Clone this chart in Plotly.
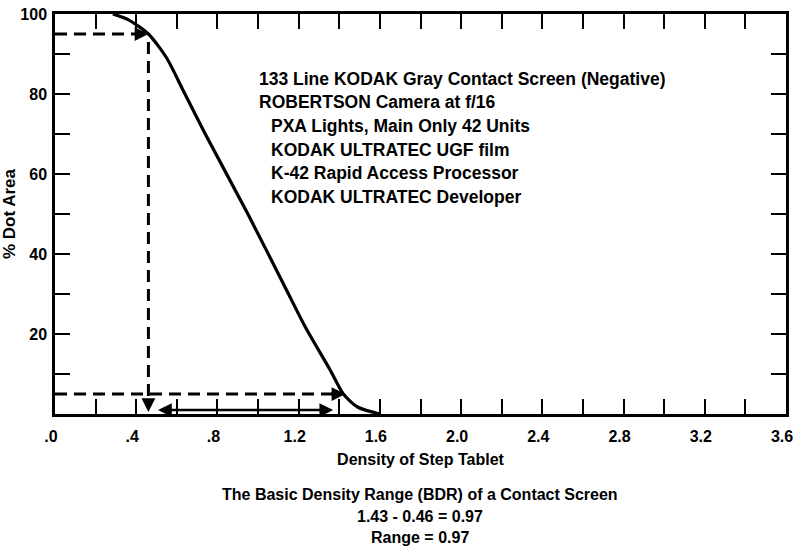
import plotly.graph_objects as go

# ---- data ----
density = [0.285, 0.36, 0.46, 0.55, 0.63, 0.74, 0.95, 1.14, 1.23, 1.355, 1.42, 1.49, 1.60]
dot_area = [100, 98.6, 95, 89, 81, 70, 50, 31, 22, 11, 5, 1.75, 0]

bdr_low = 0.46
bdr_high = 1.43
dot_high = 95
dot_low = 5

x_tickvals = [round(0.2 * i, 1) for i in range(19)]
x_ticktext = [".0", "", ".4", "", ".8", "", "1.2", "", "1.6", "", "2.0", "", "2.4", "", "2.8", "", "3.2", "", "3.6"]
y_tickvals = list(range(0, 101, 10))
y_ticktext = ["", "", "20", "", "40", "", "60", "", "80", "", "100"]

info_lines = [
    "133 Line KODAK Gray Contact Screen (Negative)",
    "ROBERTSON Camera at f/16",
    "   PXA Lights, Main Only 42 Units",
    "   KODAK ULTRATEC UGF film",
    "   K-42 Rapid Access Processor",
    "   KODAK ULTRATEC Developer",
]
caption_lines = [
    "The Basic Density Range (BDR) of a Contact Screen",
    "1.43 - 0.46 = 0.97",
    "Range = 0.97",
]

FONT = "Liberation Sans"
L, R, T, B = 55, 786, 14, 414  # plot area in pixels


def px(xp):
    return (xp - L) / (R - L)


def py(yp):
    return (B - yp) / (B - T)


fig = go.Figure()
fig.add_trace(go.Scatter(x=density, y=dot_area, mode="lines",
                         line=dict(color="black", width=3.2, shape="spline", smoothing=0.7),
                         showlegend=False, hoverinfo="skip"))

dash = "12px,7px"
fig.add_shape(type="line", x0=0, x1=bdr_low - 0.04, y0=dot_high, y1=dot_high,
              line=dict(color="black", width=3, dash=dash))
fig.add_shape(type="line", x0=bdr_low, x1=bdr_low, y0=dot_high - 2, y1=3,
              line=dict(color="black", width=3, dash=dash))
fig.add_shape(type="line", x0=0, x1=bdr_high - 0.06, y0=dot_low, y1=dot_low,
              line=dict(color="black", width=3, dash=dash))


def head(x, y, ax, ay):
    fig.add_annotation(x=x, y=y, ax=ax, ay=ay, xref="x", yref="y", axref="x", ayref="y",
                       text="", showarrow=True, arrowhead=2, arrowsize=1.1, arrowwidth=2.5,
                       arrowcolor="black")


head(bdr_low, dot_high, bdr_low - 0.06, dot_high)
head(bdr_low, 0.5, bdr_low, 4)
head(bdr_high, dot_low, bdr_high - 0.08, dot_low)

fig.add_annotation(x=1.37, y=1.0, ax=0.50, ay=1.0, xref="x", yref="y", axref="x", ayref="y",
                   text="", showarrow=True, arrowhead=2, startarrowhead=2, arrowside="end+start",
                   arrowsize=1.1, arrowwidth=2.5, arrowcolor="black")

info_y = [79, 102.5, 126, 149.5, 173, 196.5]
for line, ypx in zip(info_lines, info_y):
    indent = line.startswith("   ")
    fig.add_annotation(x=px(269 if indent else 257), y=py(ypx),
                       xref="paper", yref="paper", xanchor="left", yanchor="middle",
                       text=line.strip(), showarrow=False,
                       font=dict(family=FONT, size=17.5, color="black", weight="bold"))

cap_y = [494, 516, 537]
for line, ypx in zip(caption_lines, cap_y):
    fig.add_annotation(x=px(420), y=py(ypx), xref="paper", yref="paper",
                       xanchor="center", yanchor="middle", text=line, showarrow=False,
                       font=dict(family=FONT, size=16, color="black", weight="bold"))

fig.update_xaxes(range=[0, 3.6], tickvals=x_tickvals, ticktext=x_ticktext,
                 ticks="inside", ticklen=15, tickwidth=2, tickcolor="black",
                 showline=True, linewidth=2.5, linecolor="black", mirror="ticks",
                 showgrid=False, zeroline=False, ticklabelstandoff=6, ticklabelshift=-4,
                 automargin=False,
                 tickfont=dict(family=FONT, size=16, color="black", weight="bold"),
                 title=dict(text="Density of Step Tablet", standoff=10,
                            font=dict(family=FONT, size=16, color="black", weight="bold")))
fig.update_yaxes(range=[0, 100], tickvals=y_tickvals, ticktext=y_ticktext,
                 ticks="inside", ticklen=15, tickwidth=2, tickcolor="black",
                 showline=True, linewidth=2.5, linecolor="black", mirror="ticks",
                 showgrid=False, zeroline=False, ticklabelstandoff=2, automargin=False,
                 tickfont=dict(family=FONT, size=16, color="black", weight="bold"),
                 title=dict(text="% Dot Area", standoff=4,
                            font=dict(family=FONT, size=17, color="black", weight="bold")))

fig.update_layout(width=798, height=552, margin=dict(l=55, r=12, t=14, b=138, autoexpand=False),
                  paper_bgcolor="white", plot_bgcolor="white")
fig.write_html("out.html")
